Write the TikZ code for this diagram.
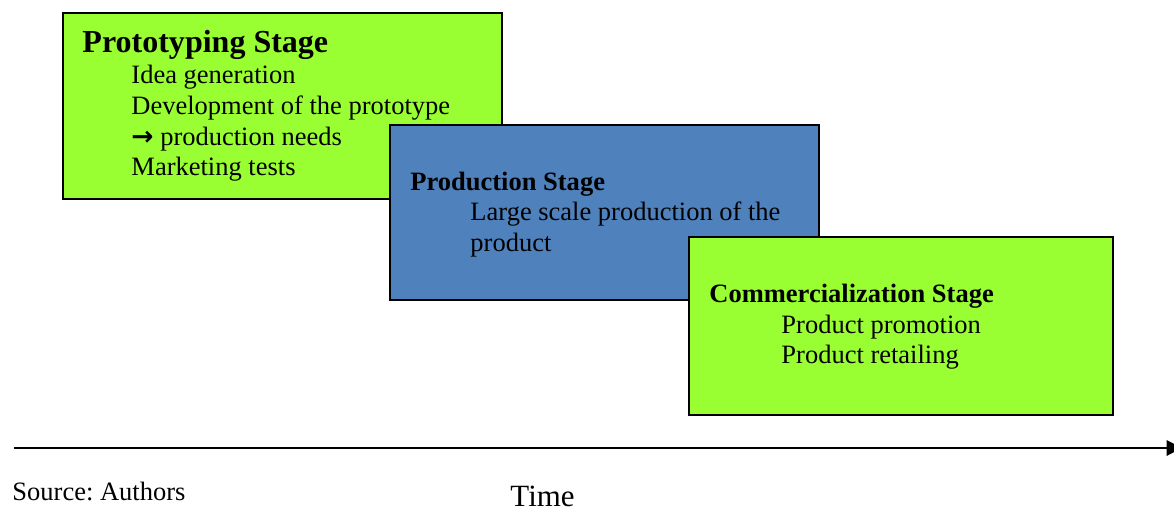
\documentclass[tikz,border=0pt]{standalone}
\usepackage{fontspec}
\setmainfont{Liberation Serif}
\usetikzlibrary{arrows.meta}
\frenchspacing
\definecolor{stagegreen}{HTML}{99FF33}
\definecolor{stageblue}{HTML}{4F81BD}
\tikzset{
  stagebox/.style={draw=black, line width=0.8pt, anchor=north west, inner sep=0pt},
  title/.style={anchor=base west, inner sep=0pt, font=\bfseries\fontsize{12}{14}\selectfont},
  body/.style={anchor=base west, inner sep=0pt, font=\fontsize{12}{14}\selectfont},
}
\begin{document}
\begin{tikzpicture}[x=0.4528pt, y=-0.4528pt]
\useasboundingbox (0,0) rectangle (1174,510);
% Box 1
\node[stagebox, fill=stagegreen, minimum width={439*0.4528pt}, minimum height={186*0.4528pt}] (b1) at (62,12) {};
\node[title, font=\bfseries\fontsize{14.5}{17}\selectfont] (t1) at (82,52) {Prototyping Stage};
\node[body] (l11) at (131,83) {Idea generation};
\node[body] (l12) at (131,114) {Development of the prototype};
\node[body] (l13) at (131,145) {{\fontspec{DejaVu Sans}\bfseries\fontsize{12}{14}\selectfont →} production needs};
\node[body] (l14) at (131,175) {Marketing tests};
% Box 2
\node[stagebox, fill=stageblue, minimum width={429*0.4528pt}, minimum height={175*0.4528pt}] (b2) at (389,124) {};
\node[title] (t2) at (410,190) {Production Stage};
\node[body] (l21) at (470,220) {Large scale production of the};
\node[body] (l22) at (470,251) {product};
% Box 3
\node[stagebox, fill=stagegreen, minimum width={424*0.4528pt}, minimum height={178*0.4528pt}] (b3) at (688,236) {};
\node[title] (t3) at (709,302) {Commercialization Stage};
\node[body] (l31) at (781,333) {Product promotion};
\node[body] (l32) at (781,363) {Product retailing};
% Time axis
\coordinate (ts) at (14,448);
\coordinate (te) at (1182,448);
\draw[line width=0.9pt, -{Triangle[length=7pt, width=7pt]}] (ts) -- (te);
\node[body] (src) at (12,500) {Source: Authors};
\node[body, font=\fontsize{14}{16}\selectfont] (time) at (510,506) {Time};
\end{tikzpicture}
\end{document}
